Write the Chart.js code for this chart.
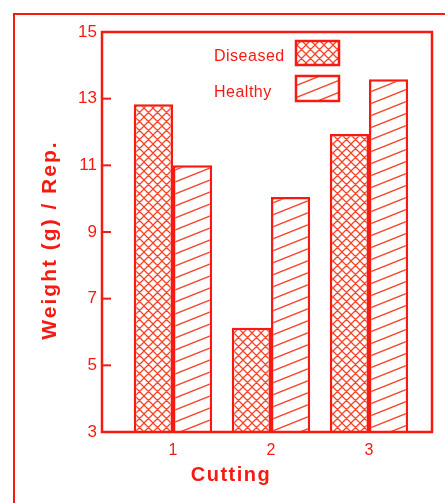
<!DOCTYPE html>
<html><head><meta charset="utf-8">
<script src="https://cdn.jsdelivr.net/npm/chart.js@4"></script>
<style>html,body{margin:0;padding:0;background:#fff;} canvas{display:block}</style>
</head><body>
<canvas id="c" width="445" height="503"></canvas>
<script>
const categories = [1, 2, 3];
const diseased = [12.83, 6.13, 11.94];
const healthy = [11.0, 10.05, 13.58];
const yTickValues = [3, 5, 7, 9, 11, 13, 15];
const seriesNames = ['Diseased', 'Healthy'];
const xTitle = 'Cutting';
const yTitle = 'Weight (g) / Rep.';

const RED = '#f61a12';
const HATCH = 'rgba(248,55,25,0.95)';
const FONT = "'Liberation Sans', Arial, sans-serif";

function crossPattern() {
  const s = 9; const c = document.createElement('canvas'); c.width = s; c.height = s;
  const g = c.getContext('2d'); g.fillStyle = '#fff'; g.fillRect(0, 0, s, s);
  g.strokeStyle = HATCH; g.lineWidth = 1.25;
  g.beginPath();
  for (const d of [-s, 0, s]) {
    g.moveTo(d - 2, -2); g.lineTo(d + s + 2, s + 2);
    g.moveTo(d - 2, s + 2); g.lineTo(d + s + 2, -2);
  }
  g.stroke();
  return g.createPattern(c, 'repeat');
}
function diagPattern() {
  const w = 30, h = 12, k = 0.4; const c = document.createElement('canvas'); c.width = w; c.height = h;
  const g = c.getContext('2d'); g.fillStyle = '#fff'; g.fillRect(0, 0, w, h);
  g.strokeStyle = HATCH; g.lineWidth = 1.3;
  g.beginPath();
  for (const cc of [-12, 0, 12, 24, 36]) {
    g.moveTo(-5, cc + k * 5); g.lineTo(w + 5, cc - k * (w + 5));
  }
  g.stroke();
  return g.createPattern(c, 'repeat');
}

const decor = {
  id: 'decor',
  beforeDraw(chart) {
    const g = chart.ctx; g.save();
    g.fillStyle = '#fff'; g.fillRect(0, 0, chart.width, chart.height);
    g.strokeStyle = RED; g.lineWidth = 2;
    g.strokeRect(14, 14, chart.width, chart.height);
    g.restore();
  },
  afterDraw(chart) {
    const g = chart.ctx, a = chart.chartArea, y = chart.scales.y;
    g.save();
    g.strokeStyle = RED; g.lineWidth = 2.5;
    g.strokeRect(a.left, a.top, a.right - a.left, a.bottom - a.top);
    g.lineWidth = 2;
    yTickValues.forEach(v => {
      if (v === y.min || v === y.max) return;
      const py = y.getPixelForValue(v);
      g.beginPath(); g.moveTo(a.left, py); g.lineTo(a.left + 9, py); g.stroke();
    });
    // legend (text left, swatch right)
    const boxes = [[296, 41, 43, 24, 57], [296, 76, 43, 25, 93]];
    chart.data.datasets.forEach((ds, i) => {
      const [bx, by, bw, bh, ty] = boxes[i];
      g.fillStyle = ds.backgroundColor; g.fillRect(bx, by, bw, bh);
      g.strokeStyle = RED; g.lineWidth = 2.5; g.strokeRect(bx, by, bw, bh);
      g.fillStyle = RED; g.font = `16px ${FONT}`; g.textAlign = 'left'; g.textBaseline = 'middle';
      g.letterSpacing = '0.5px';
      g.fillText(ds.label, 214, ty);
    });
    // axis titles
    g.fillStyle = RED; g.textAlign = 'center'; g.textBaseline = 'middle';
    g.font = `bold 20px ${FONT}`;
    g.letterSpacing = '1.5px';
    g.fillText(xTitle, 231, 475);
    g.translate(50, 240); g.rotate(-Math.PI / 2);
    g.font = `bold 21px ${FONT}`;
    g.letterSpacing = '2px';
    g.fillText(yTitle, 0, 0);
    g.restore();
  }
};

new Chart(document.getElementById('c').getContext('2d'), {
  type: 'bar',
  data: {
    labels: categories,
    datasets: [
      { label: seriesNames[0], data: diseased, backgroundColor: crossPattern(), borderColor: RED, borderWidth: 2.5, borderSkipped: false },
      { label: seriesNames[1], data: healthy, backgroundColor: diagPattern(), borderColor: RED, borderWidth: 2.5, borderSkipped: false }
    ]
  },
  options: {
    responsive: false, animation: false,
    layout: { padding: { top: 32, right: 13, left: 0, bottom: 0 } },
    datasets: { bar: { categoryPercentage: 0.8, barPercentage: 1 } },
    plugins: { legend: { display: false }, tooltip: { enabled: false } },
    scales: {
      x: {
        type: 'linear', min: 0.2755, max: 3.643, offset: false,
        grid: { display: false, drawTicks: false }, border: { display: false },
        afterBuildTicks: s => { s.ticks = categories.map(v => ({ value: v })); },
        afterFit: s => { s.height = 71; },
        ticks: { color: RED, font: { family: FONT, size: 16 }, padding: 9, autoSkip: false, maxRotation: 0, callback: v => String(v) }
      },
      y: {
        min: 3, max: 15,
        grid: { display: false, drawTicks: false }, border: { display: false },
        afterBuildTicks: s => { s.ticks = yTickValues.map(v => ({ value: v })); },
        afterFit: s => { s.width = 102; },
        ticks: { color: RED, font: { family: FONT, size: 17 }, padding: 5 }
      }
    }
  },
  plugins: [decor]
});
</script>
</body></html>
